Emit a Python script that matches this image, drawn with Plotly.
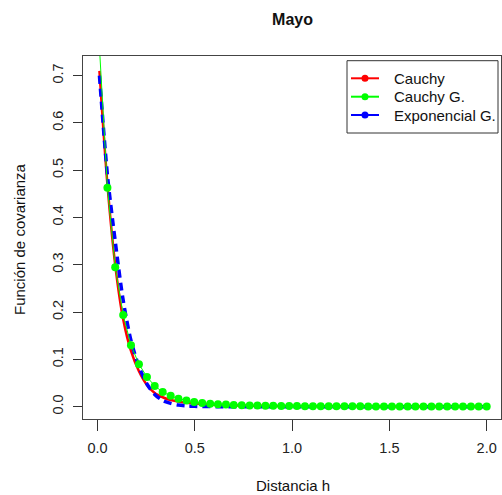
import plotly.graph_objects as go

# distance grid (h)
h = [0.010, 0.051, 0.091, 0.132, 0.172, 0.213, 0.254, 0.294, 0.335, 0.376,
     0.416, 0.457, 0.497, 0.538, 0.579, 0.619, 0.660, 0.700, 0.741, 0.782,
     0.822, 0.863, 0.903, 0.944, 0.985, 1.025, 1.066, 1.107, 1.147, 1.188,
     1.228, 1.269, 1.310, 1.350, 1.391, 1.431, 1.472, 1.513, 1.553, 1.594,
     1.634, 1.675, 1.716, 1.756, 1.797, 1.838, 1.878, 1.919, 1.959, 2.000]

cauchy = [0.710, 0.470, 0.300, 0.185, 0.118, 0.075, 0.046, 0.029, 0.020, 0.014,
          0.011, 0.0085, 0.0068, 0.0055, 0.0046, 0.0039, 0.0033, 0.0028, 0.0025, 0.0022,
          0.0019, 0.0017, 0.0015, 0.0014, 0.0013, 0.0012, 0.0011, 0.0010, 0.0009, 0.0009,
          0.0008, 0.0008, 0.0007, 0.0007, 0.0006, 0.0006, 0.0006, 0.0005, 0.0005, 0.0005,
          0.0005, 0.0004, 0.0004, 0.0004, 0.0004, 0.0004, 0.0003, 0.0003, 0.0003, 0.0003]

cauchy_g = [0.760, 0.463, 0.295, 0.194, 0.130, 0.090, 0.063, 0.044, 0.031, 0.023,
            0.017, 0.013, 0.010, 0.008, 0.0065, 0.0053, 0.0044, 0.0037, 0.0031, 0.0027,
            0.0023, 0.0020, 0.0018, 0.0016, 0.0014, 0.0013, 0.0012, 0.0011, 0.0010, 0.0009,
            0.0008, 0.0008, 0.0007, 0.0007, 0.0006, 0.0006, 0.0005, 0.0005, 0.0005, 0.0005,
            0.0004, 0.0004, 0.0004, 0.0004, 0.0003, 0.0003, 0.0003, 0.0003, 0.0003, 0.0003]

expo_g = [0.700, 0.490, 0.350, 0.225, 0.140, 0.085, 0.048, 0.026, 0.013, 0.007,
          0.0035, 0.0017, 0.0008, 0.0004, 0.0002, 0.0001, 0.0, 0.0, 0.0, 0.0,
          0.0, 0.0, 0.0, 0.0, 0.0, 0.0, 0.0, 0.0, 0.0, 0.0,
          0.0, 0.0, 0.0, 0.0, 0.0, 0.0, 0.0, 0.0, 0.0, 0.0,
          0.0, 0.0, 0.0, 0.0, 0.0, 0.0, 0.0, 0.0, 0.0, 0.0]

names = ["Cauchy", "Cauchy G.", "Exponencial G."]
colors = ["#FF0000", "#00FF00", "#0000FF"]

x_ticks = [0.0, 0.5, 1.0, 1.5, 2.0]
x_ticklabels = ["0.0", "0.5", "1.0", "1.5", "2.0"]
y_ticks = [0.0, 0.1, 0.2, 0.3, 0.4, 0.5, 0.6, 0.7]
y_ticklabels = ["0.0", "0.1", "0.2", "0.3", "0.4", "0.5", "0.6", "0.7"]

FONT = "Liberation Sans, Arial, sans-serif"
W, H = 502, 495
ML, MR, MT, MB = 83, 1, 56, 76
PW, PH = W - ML - MR, H - MT - MB


def px_x(px):
    return (px - ML) / PW


def px_y(py):
    return (H - MB - py) / PH


fig = go.Figure()
fig.add_trace(go.Scatter(x=h, y=cauchy, mode="lines", showlegend=False, name=names[0],
                         line=dict(color=colors[0], width=2.5, shape="spline", smoothing=0.8)))
fig.add_trace(go.Scatter(x=h, y=expo_g, mode="lines", showlegend=False, name=names[2],
                         line=dict(color=colors[2], width=3.5, dash="8px,5px",
                                   shape="spline", smoothing=0.8)))
fig.add_trace(go.Scatter(x=h, y=cauchy_g, mode="lines+markers", showlegend=False, name=names[1],
                         line=dict(color=colors[1], width=1),
                         marker=dict(color=colors[1], size=8)))

shapes = []
annotations = []
# legend box
shapes.append(dict(type="rect", xref="paper", yref="paper",
                   x0=px_x(347), x1=px_x(498), y0=px_y(133), y1=px_y(60.7),
                   line=dict(color="#333", width=1), fillcolor="white", layer="above"))
item_y = [78.3, 96.7, 115.0]
for n, c, yy in zip(names, colors, item_y):
    shapes.append(dict(type="line", xref="paper", yref="paper",
                       x0=px_x(351), x1=px_x(379), y0=px_y(yy), y1=px_y(yy),
                       line=dict(color=c, width=2), layer="above"))
    shapes.append(dict(type="circle", xref="paper", yref="paper",
                       x0=px_x(361.5), x1=px_x(368.5), y0=px_y(yy + 3.5), y1=px_y(yy - 3.5),
                       line=dict(color=c, width=0), fillcolor=c, layer="above"))
    annotations.append(dict(text=n, xref="paper", yref="paper", x=px_x(392), y=px_y(yy),
                            xanchor="left", yanchor="middle", showarrow=False,
                            font=dict(size=15, color="#111")))

annotations.append(dict(text="Distancia h", xref="paper", yref="paper",
                        x=px_x(293), y=px_y(485), xanchor="center", yanchor="middle",
                        showarrow=False, font=dict(size=15, color="#111")))
annotations.append(dict(text="Función de covarianza", xref="paper", yref="paper",
                        x=px_x(19), y=px_y(239), textangle=-90,
                        xanchor="center", yanchor="middle", showarrow=False,
                        font=dict(size=15, color="#111")))

fig.update_layout(
    width=W, height=H,
    margin=dict(l=ML, r=MR, t=MT, b=MB),
    paper_bgcolor="white", plot_bgcolor="white",
    font=dict(family=FONT, size=14, color="#222"),
    title=dict(text="<b>Mayo</b>", x=px_x(292.5), xref="paper", xanchor="center",
               y=1 - 19 / H, yref="container", yanchor="middle",
               font=dict(size=16, color="#111")),
    showlegend=False,
    xaxis=dict(range=[-0.0745, 2.0735], tickvals=x_ticks, ticktext=x_ticklabels,
               ticks="outside", ticklen=11, tickcolor="#333", showgrid=False, zeroline=False,
               showline=True, linecolor="#444", linewidth=1, mirror=True,
               ticklabelstandoff=5, tickfont=dict(size=14.5, color="#222")),
    yaxis=dict(range=[-0.026, 0.7414], tickvals=y_ticks, ticktext=y_ticklabels,
               ticks="outside", ticklen=9, tickcolor="#333", showgrid=False, zeroline=False,
               showline=True, linecolor="#444", linewidth=1, mirror=True,
               ticklabelstandoff=4, tickangle=-90, tickfont=dict(size=14.5, color="#222")),
    shapes=shapes,
    annotations=annotations,
)

fig.write_html("out.html", config={"displayModeBar": False},
               post_script="document.body.style.margin='0';document.body.style.padding='0';")
